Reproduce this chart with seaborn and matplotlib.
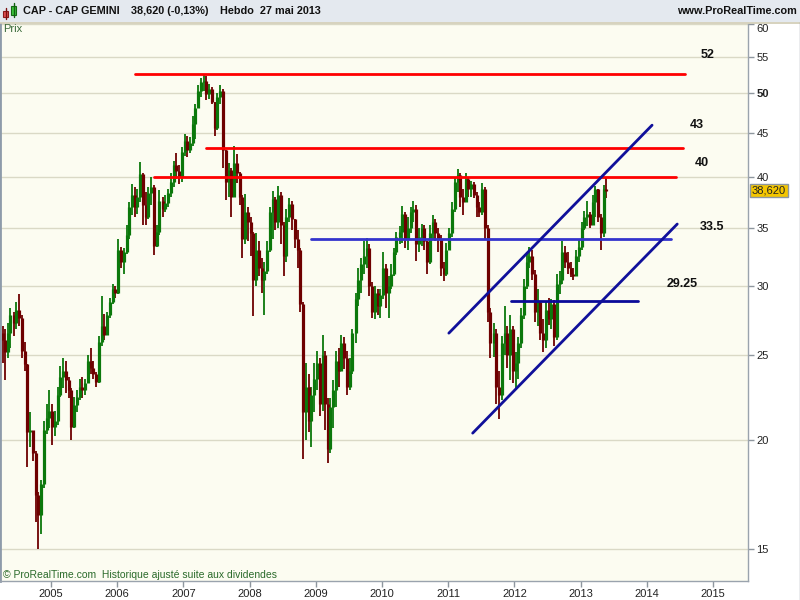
import numpy as np
import pandas as pd
import matplotlib
matplotlib.use('Agg')
import matplotlib.pyplot as plt
from matplotlib.patches import Rectangle
from matplotlib.lines import Line2D
from matplotlib.ticker import NullLocator
import seaborn as sns

# --- Data: CAP GEMINI, two bars per month, Apr 2004 - May 2013 ---
closes = [
    26.0, 25.2, 26.5, 27.8, 27.2, 28.2, 27.6, 25.3, 24.4, 20.4, 20.5, 19.3, 17.3, 16.4, 17.8, 20.5, 21.2, 21.6,
    20.7, 21.0, 22.5, 23.6, 24.0, 23.4, 22.8, 20.7, 21.9, 22.4, 23.0, 22.8, 23.2, 24.6, 24.2, 23.8, 23.3, 25.9, 27.0, 26.4, 27.8, 28.8, 29.8, 29.5,
    33.0, 32.0, 32.8, 34.3, 37.0, 38.2, 37.0, 38.0, 40.3, 37.2, 36.0, 38.4, 39.0, 33.4, 34.6, 37.6, 36.8, 37.4, 38.4, 39.5, 41.3, 40.7, 40.0, 42.8,
    44.0, 43.0, 43.8, 46.0, 48.0, 50.2, 51.4, 51.6, 49.8, 50.5, 48.8, 45.5, 49.5, 50.3, 43.0, 39.5, 40.8, 38.0, 41.5, 40.5, 38.0, 34.0, 36.5, 35.5,
    34.5, 30.5, 33.0, 31.5, 30.5, 31.2, 33.0, 36.5, 37.8, 35.5, 38.2, 35.3, 32.5, 36.0, 37.3, 35.8, 34.0, 33.0, 28.6, 21.5, 23.0, 21.0, 22.5, 23.5,
    24.5, 22.0, 25.0, 22.0, 19.5, 21.8, 22.8, 24.6, 24.0, 25.8, 24.8, 23.0, 24.0, 26.5, 29.0, 30.5, 31.8, 32.5, 33.2, 30.0, 28.0, 29.5, 28.5, 29.3,
    31.5, 29.5, 30.0, 31.0, 32.8, 34.2, 34.6, 36.3, 34.0, 35.0, 36.5, 36.8, 33.5, 34.2, 35.0, 33.8, 32.0, 34.5, 35.5, 34.5, 34.0, 31.5, 31.0, 33.0,
    34.5, 36.8, 39.5, 40.2, 38.0, 37.5, 39.8, 38.8, 39.3, 38.2, 37.0, 36.5, 38.8, 35.0, 28.0, 25.8, 26.5, 23.0, 22.5, 25.8, 26.5, 25.0, 26.8, 24.0,
    24.5, 25.8, 27.8, 30.0, 32.0, 32.5, 31.0, 28.0, 28.8, 26.5, 26.0, 28.2, 27.5, 28.6, 26.2, 30.2, 30.5, 32.8, 32.0, 31.5, 31.0, 30.8, 32.5, 33.3,
    35.0, 36.0, 36.3, 35.3, 37.5, 38.8, 36.0, 34.5, 38.8, 38.62,
]
highs = [
    27.0, 26.8, 27.2, 28.3, 28.0, 28.8, 29.4, 27.8, 25.9, 24.4, 21.5, 20.4, 19.4, 17.4, 18.0, 21.0, 22.0, 22.8,
    22.0, 21.6, 23.0, 24.3, 24.8, 24.6, 23.6, 22.9, 22.4, 22.8, 23.5, 23.6, 23.5, 25.0, 25.5, 24.6, 23.9, 26.3, 29.2, 27.9, 28.0, 29.1, 30.2, 30.0,
    34.0, 33.3, 33.2, 35.3, 37.5, 39.3, 39.0, 38.8, 41.7, 40.4, 38.5, 39.0, 40.0, 39.2, 35.3, 38.7, 38.0, 38.2, 38.8, 40.5, 41.8, 42.6, 41.3, 43.3,
    44.8, 44.6, 44.5, 47.0, 48.5, 51.0, 52.0, 52.6, 52.2, 51.2, 50.8, 48.8, 50.0, 51.0, 50.5, 43.0, 41.5, 41.0, 43.4, 42.5, 40.6, 38.2, 38.3, 37.0,
    36.0, 34.6, 34.5, 33.8, 32.3, 32.0, 33.8, 37.0, 38.6, 38.0, 39.1, 38.5, 35.5, 36.8, 37.9, 37.6, 35.8, 34.8, 33.2, 28.8, 24.5, 23.8, 23.0, 24.5,
    25.3, 24.8, 26.4, 25.3, 22.3, 22.3, 23.4, 25.3, 25.5, 26.4, 26.2, 25.3, 24.8, 26.8, 29.5, 31.5, 32.3, 33.8, 34.1, 33.5, 30.3, 30.0, 29.8, 29.8,
    32.8, 31.8, 30.8, 31.8, 33.2, 34.6, 35.2, 37.1, 36.5, 36.0, 37.0, 37.6, 37.2, 35.0, 35.4, 35.3, 33.8, 35.3, 36.2, 35.8, 35.0, 34.3, 32.0, 33.6,
    35.0, 37.5, 40.0, 40.9, 40.5, 38.8, 40.5, 40.0, 39.6, 39.5, 38.5, 37.5, 39.4, 39.0, 35.3, 28.3, 27.2, 26.8, 24.0, 26.3, 28.5, 27.0, 27.8, 27.0,
    25.2, 26.2, 28.3, 30.6, 32.8, 33.3, 33.0, 31.3, 29.8, 28.8, 27.5, 28.8, 29.1, 29.0, 28.9, 31.0, 31.2, 33.8, 33.4, 32.8, 32.0, 31.5, 33.0, 33.9,
    35.5, 36.6, 37.6, 36.5, 38.2, 39.1, 38.8, 36.3, 39.2, 40.0,
]
lows = [
    24.5, 23.4, 24.8, 25.5, 26.3, 26.8, 27.0, 24.8, 24.0, 18.6, 19.6, 18.9, 16.1, 15.0, 15.6, 17.6, 20.3, 20.6,
    19.7, 20.2, 20.8, 22.4, 22.9, 22.6, 22.3, 20.0, 20.6, 21.5, 22.2, 22.3, 22.5, 23.4, 23.8, 23.5, 23.0, 23.2, 25.6, 26.0, 26.8, 27.6, 28.6, 29.1,
    29.4, 31.5, 31.0, 32.7, 34.0, 36.2, 36.0, 36.3, 37.5, 35.3, 35.3, 35.8, 37.2, 32.6, 33.3, 34.3, 36.0, 36.5, 37.0, 38.0, 39.0, 39.8, 39.3, 39.5,
    42.3, 42.2, 42.6, 43.5, 44.3, 48.0, 49.5, 50.3, 49.0, 49.2, 48.5, 44.6, 45.3, 48.6, 41.0, 37.7, 38.0, 36.0, 38.0, 39.4, 37.2, 32.3, 33.5, 33.8,
    32.5, 27.7, 30.0, 30.8, 29.5, 27.8, 31.0, 32.8, 34.0, 34.8, 35.0, 33.5, 30.8, 32.0, 35.5, 34.8, 33.2, 31.5, 28.0, 19.0, 20.0, 20.4, 19.6, 21.5,
    22.8, 21.3, 21.6, 20.5, 18.8, 19.3, 20.6, 21.8, 23.0, 24.0, 24.1, 22.5, 22.8, 23.8, 25.8, 28.5, 29.5, 31.0, 31.5, 29.2, 27.6, 27.5, 27.8, 27.6,
    29.0, 28.3, 27.6, 29.8, 30.8, 32.6, 33.5, 33.6, 33.2, 33.0, 34.5, 35.5, 32.1, 32.8, 33.4, 33.0, 31.0, 31.8, 34.0, 33.8, 32.8, 30.8, 30.4, 30.8,
    33.0, 34.2, 36.5, 38.5, 37.0, 36.2, 37.5, 38.0, 38.0, 37.9, 36.0, 36.0, 36.2, 34.0, 27.3, 24.8, 24.9, 22.0, 21.1, 22.2, 25.0, 24.2, 23.4, 23.2,
    22.8, 23.5, 25.5, 27.5, 29.8, 31.5, 30.5, 27.3, 27.0, 26.0, 25.2, 25.5, 27.1, 26.8, 25.6, 26.0, 29.4, 30.2, 31.5, 31.0, 30.7, 30.5, 30.8, 32.0,
    33.0, 34.8, 35.2, 35.0, 35.3, 36.0, 35.5, 33.0, 34.2, 37.9,
]
first_open = 26.5

# drawn support / resistance levels
level_labels = ['52', '43', '40', '33.5', '29.25']
level_prices = [52.5, 43.2, 40.0, 34.0, 28.85]
level_from = [2006.27, 2007.34, 2006.56, 2008.93, 2011.95]
level_to = [2014.58, 2014.55, 2014.44, 2014.37, 2013.87]
level_colors = ['#FF0000', '#FF0000', '#FF0000', '#3434CC', '#0A0A99']
label_x = [2014.92, 2014.75, 2014.83, 2014.99, 2014.53]
label_y = [55.3, 45.95, 41.5, 35.1, 30.15]

# trend channel
channel_names = ['haut', 'bas']
channel_x0 = [2011.01, 2011.37]
channel_y0 = [26.5, 20.35]
channel_x1 = [2014.08, 2014.46]
channel_y1 = [45.9, 35.35]

year_ticks = list(range(2005, 2016))
price_ticks = [15, 20, 25, 30, 35, 40, 45, 50, 55, 60]

# --- Build frame ---
dates = pd.date_range('2004-04-01', periods=len(closes), freq='SMS') + pd.Timedelta(days=7)
df = pd.DataFrame({'date': dates, 'close': closes, 'high': highs, 'low': lows})
df['open'] = [first_open] + closes[:-1]
df['t'] = df['date'].dt.year + (df['date'].dt.dayofyear - 1) / (365 + df['date'].dt.is_leap_year.astype(int))
df['up'] = df['close'] >= df['open']

seg_rows = []
for name, p, a, b in zip(level_labels, level_prices, level_from, level_to):
    seg_rows += [(name, a, p), (name, b, p)]
for name, a, ya, b, yb in zip(channel_names, channel_x0, channel_y0, channel_x1, channel_y1):
    seg_rows += [(name, a, ya), (name, b, yb)]
segs = pd.DataFrame(seg_rows, columns=['line', 't', 'price'])
palette = dict(zip(level_labels, level_colors))
palette.update({'haut': '#10109A', 'bas': '#10109A'})

# --- Plot ---
sns.set_theme(style='white')
plt.rcParams['font.family'] = ['Liberation Sans', 'DejaVu Sans']

fig = plt.figure(figsize=(8, 6), dpi=100)
fig.patch.set_facecolor('white')
ax = fig.add_axes([0.0, 1 - 581 / 600, 748 / 800, (581 - 23.5) / 600])
ax.set_facecolor('#FCFCF1')
ax.set_yscale('log')
ax.set_xlim(2004.2296, 2015.529)
ax.set_ylim(13.77, 60.04)

for v in price_ticks:
    ax.axhline(v, color='#DAD9C6', lw=1, zorder=0)

cols = np.where(df['up'], '#0B780B', '#6E0000')
ax.vlines(df['t'], df['low'], df['high'], colors=cols, lw=1.3, zorder=2)
ax.vlines(df['t'], df[['open', 'close']].min(axis=1), df[['open', 'close']].max(axis=1),
          colors=cols, lw=2.3, zorder=2)

sns.lineplot(data=segs, x='t', y='price', hue='line', units='line', estimator=None,
             sort=False, palette=palette, lw=2.0, legend=False, ax=ax, zorder=3)

for txt, x, y in zip(level_labels, label_x, label_y):
    ax.text(x, y, txt, ha='center', va='center', fontsize=9, fontweight='bold', color='#111111')

# axes cosmetics
ax.set_xlabel('')
ax.set_ylabel('')
ax.yaxis.tick_right()
ax.set_yticks(price_ticks)
ylabels = ax.set_yticklabels([str(v) for v in price_ticks])
ax.yaxis.set_minor_locator(NullLocator())
for lab in ylabels:
    if lab.get_text() == '50':
        lab.set_fontweight('bold')
    if lab.get_text() == '60':
        lab.set_va('top')
ax.set_xticks(year_ticks)
ax.set_xticklabels([str(y) for y in year_ticks])
ax.tick_params(axis='y', which='major', direction='out', length=4, width=1, color='#8E969E',
               labelsize=8, pad=2, labelcolor='#222222', right=True, left=False)
ax.tick_params(axis='x', which='major', direction='out', length=4, width=1, color='#8E969E',
               labelsize=8, pad=2, labelcolor='#222222', bottom=True)
ax.spines['top'].set_visible(False)
ax.spines['left'].set_color('#8E9BAA')
ax.spines['left'].set_linewidth(2)
ax.spines['right'].set_color('#9AA3AD')
ax.spines['bottom'].set_color('#9AA3AD')
ax.spines['right'].set_linewidth(1)
ax.spines['bottom'].set_linewidth(1)

ax.text(1.005, closes[-1], '38,620', transform=ax.get_yaxis_transform(), ha='left', va='center',
        fontsize=8, color='#222222',
        bbox=dict(boxstyle='square,pad=0.15', fc='#F4C600', ec='#8C96A0', lw=1))

# header strip
fig.patches.append(Rectangle((0, 1 - 22 / 600), 1, 22 / 600, transform=fig.transFigure,
                             fc='#E4E9EF', ec='none', zorder=-1))
fig.lines.append(Line2D([0, 1], [1 - 22.5 / 600] * 2, transform=fig.transFigure, color='#CFCBB3', lw=1.2))
fig.lines.append(Line2D([799.5 / 800] * 2, [0, 1 - 22 / 600], transform=fig.transFigure, color='#9AA3AD', lw=1))
# small candle icon
fig.lines.append(Line2D([5.7 / 800] * 2, [1 - 8 / 600, 1 - 19 / 600], transform=fig.transFigure, color='#7A1010', lw=1))
fig.patches.append(Rectangle((3.3 / 800, 1 - 17.3 / 600), 4.7 / 800, 6.3 / 600, transform=fig.transFigure,
                             fc='#E05050', ec='#8A1A1A', lw=0.8))
fig.lines.append(Line2D([13.5 / 800] * 2, [1 - 3 / 600, 1 - 17 / 600], transform=fig.transFigure, color='#106010', lw=1))
fig.patches.append(Rectangle((11 / 800, 1 - 15.3 / 600), 5 / 800, 9.3 / 600, transform=fig.transFigure,
                             fc='#3CC43C', ec='#146814', lw=0.8))

hy = 1 - 11 / 600
fig.text(23 / 800, hy, 'CAP - CAP GEMINI', fontsize=7.8, fontweight='bold', va='center', color='#111111')
fig.text(131 / 800, hy, '38,620 (-0,13%)', fontsize=7.8, fontweight='bold', va='center', color='#111111')
fig.text(220 / 800, hy, 'Hebdo  27 mai 2013', fontsize=7.8, fontweight='bold', va='center', color='#111111')
fig.text(797 / 800, hy, 'www.ProRealTime.com', fontsize=7.8, fontweight='bold', va='center', ha='right',
         color='#111111')
fig.text(3 / 800, 1 - 28.5 / 600, 'Prix', fontsize=8, va='center', color='#3A6A3A')
fig.text(3 / 800, 1 - 575.5 / 600, '© ProRealTime.com  Historique ajusté suite aux dividendes',
         fontsize=7.5, va='center', color='#2A6A2A')

fig.savefig('out.png', dpi=100)
plt.close(fig)
